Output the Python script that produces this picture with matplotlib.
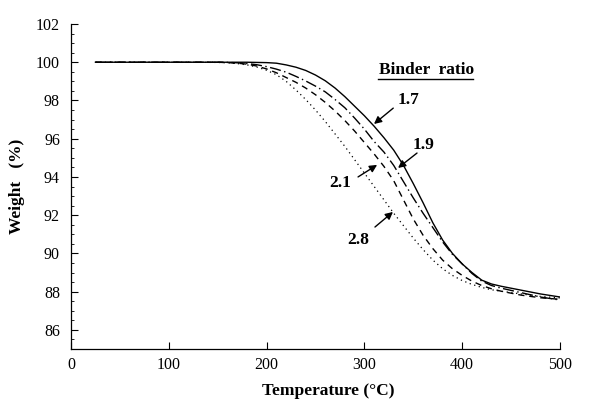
import matplotlib
matplotlib.use("Agg")
import matplotlib.pyplot as plt
from matplotlib.ticker import MultipleLocator

plt.rcParams['font.family'] = ['Liberation Serif', 'DejaVu Serif']

temperature = [25, 100, 150, 160, 170, 180, 190, 200, 210, 220, 230, 240, 250, 260,
               270, 280, 290, 300, 310, 320, 330, 340, 350, 360, 370, 380, 390, 400,
               410, 420, 430, 440, 460, 480, 500]

w_17 = [100, 100, 100, 100, 100, 100, 99.99, 99.98, 99.95, 99.86, 99.74, 99.57, 99.33, 99.03,
        98.65, 98.2, 97.7, 97.2, 96.65, 96.05, 95.4, 94.6, 93.65, 92.65, 91.6, 90.7, 90.0, 89.45,
        89.0, 88.6, 88.4, 88.28, 88.08, 87.88, 87.72]

w_19 = [100, 100, 100, 99.99, 99.97, 99.93, 99.87, 99.77, 99.64, 99.48, 99.26, 99.02, 98.75, 98.45,
        98.05, 97.62, 97.08, 96.5, 95.85, 95.3, 94.6, 93.75, 92.9, 92.1, 91.35, 90.6, 89.95, 89.45,
        88.95, 88.55, 88.32, 88.18, 87.95, 87.72, 87.56]

w_21 = [100, 100, 100, 99.98, 99.95, 99.9, 99.8, 99.65, 99.45, 99.2, 98.95, 98.65, 98.3, 97.9,
        97.45, 96.95, 96.4, 95.8, 95.2, 94.55, 93.8, 92.8, 91.8, 90.95, 90.25, 89.65, 89.2, 88.85,
        88.55, 88.32, 88.15, 88.02, 87.82, 87.68, 87.6]

w_28 = [100, 100, 99.99, 99.97, 99.93, 99.86, 99.75, 99.58, 99.35, 99.0, 98.55, 98.05, 97.5, 96.9,
        96.25, 95.6, 94.9, 94.2, 93.5, 92.8, 92.1, 91.45, 90.8, 90.2, 89.65, 89.2, 88.85, 88.58,
        88.38, 88.22, 88.1, 88.02, 87.88, 87.75, 87.67]

x_ticks = [0, 100, 200, 300, 400, 500]
y_ticks = [86, 88, 90, 92, 94, 96, 98, 100, 102]

fig = plt.figure(figsize=(5.98, 4.04), dpi=100)
ax = fig.add_axes([71/598, 55/404, 489/598, 325/404])

ax.plot(temperature, w_17, color='black', lw=1.0, ls='-')
ax.plot(temperature, w_19, color='black', lw=1.0, ls=(0, (8, 2.5, 1, 2.5)))
ax.plot(temperature, w_21, color='black', lw=1.0, ls=(0, (4.5, 3.5)))
ax.plot(temperature, w_28, color='black', lw=0.9, ls=(0, (1, 2.8)))

ax.set_xlim(0, 500)
ax.set_ylim(85, 102)
ax.set_xticks(x_ticks)
ax.set_yticks(y_ticks)
ax.yaxis.set_minor_locator(MultipleLocator(0.5))
ax.tick_params(axis='both', which='major', direction='in', length=5, width=0.8,
               labelsize=11.5, colors='black')
ax.tick_params(axis='y', which='major', pad=8)
ax.tick_params(axis='x', which='major', pad=6)
ax.tick_params(axis='y', which='minor', direction='in', length=2.5, width=0.6)
for s in ['top', 'right']:
    ax.spines[s].set_visible(False)
for s in ['left', 'bottom']:
    ax.spines[s].set_linewidth(0.9)

ax.set_xlabel('Temperature (°C)', fontsize=12.5, fontweight='bold')
ax.xaxis.set_label_coords(0.526, -0.105)
ax.set_ylabel('Weight   (%)', fontsize=12.5, fontweight='bold', labelpad=8)

bold = dict(fontsize=12.5, fontweight='bold', ha='center', va='center')
arrow = dict(arrowstyle='-|>', color='black', lw=1.0, mutation_scale=11,
             shrinkA=0, shrinkB=0)

ax.text(364, 99.6, 'Binder  ratio', **bold)
ax.plot([314, 411], [99.12, 99.12], color='black', lw=1.0, clip_on=False)

ax.text(344.6, 98.03, '1.7', **bold)
ax.annotate('', xy=(309.8, 96.77), xytext=(329.5, 97.6), arrowprops=arrow)

ax.text(360, 95.67, '1.9', **bold)
ax.annotate('', xy=(334.4, 94.47), xytext=(353.8, 95.25), arrowprops=arrow)

ax.text(275, 93.68, '2.1', **bold)
ax.annotate('', xy=(313, 94.63), xytext=(293.5, 94.0), arrowprops=arrow)

ax.text(293.5, 90.7, '2.8', **bold)
ax.annotate('', xy=(329.2, 92.17), xytext=(310.8, 91.38), arrowprops=arrow)

fig.savefig('out.png', dpi=100)
